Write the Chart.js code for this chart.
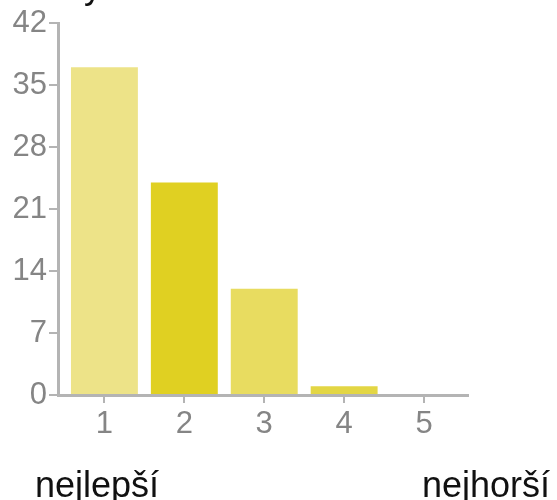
<!DOCTYPE html>
<html>
<head>
<meta charset="utf-8">
<script src="https://cdn.jsdelivr.net/npm/chart.js@4"></script>
<style>
  html, body { margin: 0; padding: 0; background: #fff; }
  #wrap { width: 557px; height: 500px; }
</style>
</head>
<body>
<div id="wrap"><canvas id="hlasyChart" width="557" height="500"></canvas></div>
<script>
// data
const categories = ['1', '2', '3', '4', '5'];
const positions = [1, 2, 3, 4, 5];
const votes = [37, 24, 12, 1, 0];
const yTicks = [0, 7, 14, 21, 28, 35, 42];
const barColors = ['#ede388', '#e0d022', '#e8dc60', '#e3d644', '#e3d644'];

const axisGray = '#b4b4b4';
const font = 'Liberation Sans, Arial, sans-serif';

// side texts (cut title on top, scale ends under the axis)
const textPlugin = {
    id: 'sideTexts',
    afterDraw(chart) {
        const ctx = chart.ctx;
        ctx.save();
        ctx.fillStyle = '#111';
        ctx.font = '36px ' + font;
        ctx.textBaseline = 'alphabetic';
        ctx.textAlign = 'left';
        ctx.fillText('Hlasy', 12, -2);
        ctx.fillText('nejlepší', 35, 497);
        ctx.fillText('nejhorší', 422, 497);
        ctx.restore();
    }
};

const ctx = document.getElementById('hlasyChart').getContext('2d');
new Chart(ctx, {
    type: 'bar',
    data: {
        datasets: [{
            data: positions.map((p, i) => ({ x: p, y: votes[i] })),
            backgroundColor: barColors,
            borderWidth: 0,
            barPercentage: 1,
            categoryPercentage: 0.8375
        }]
    },
    options: {
        responsive: false,
        animation: false,
        layout: { padding: { top: 23, right: 89, left: 0, bottom: 0 } },
        plugins: {
            legend: { display: false },
            tooltip: { enabled: false }
        },
        scales: {
            x: {
                type: 'linear',
                offset: false,
                min: 0.419,
                max: 5.55,
                afterBuildTicks: s => { s.ticks = positions.map(v => ({ value: v })); },
                afterFit: s => { s.height = 105; },
                ticks: {
                    callback: (v) => categories[positions.indexOf(v)],
                    color: '#858585',
                    font: { family: font, size: 31 },
                    padding: 3,
                    maxRotation: 0
                },
                grid: { offset: false, drawOnChartArea: false, drawTicks: true, tickLength: 8, color: axisGray, lineWidth: 2 },
                border: { color: axisGray, width: 3 }
            },
            y: {
                min: 0,
                max: 42,
                afterBuildTicks: s => { s.ticks = yTicks.map(v => ({ value: v })); },
                afterFit: s => { s.width = 58; },
                ticks: {
                    color: '#858585',
                    font: { family: font, size: 31 },
                    padding: 2
                },
                grid: { drawOnChartArea: false, drawTicks: true, tickLength: 9, color: axisGray, lineWidth: 2 },
                border: { color: axisGray, width: 3 }
            }
        }
    },
    plugins: [textPlugin]
});
</script>
</body>
</html>
